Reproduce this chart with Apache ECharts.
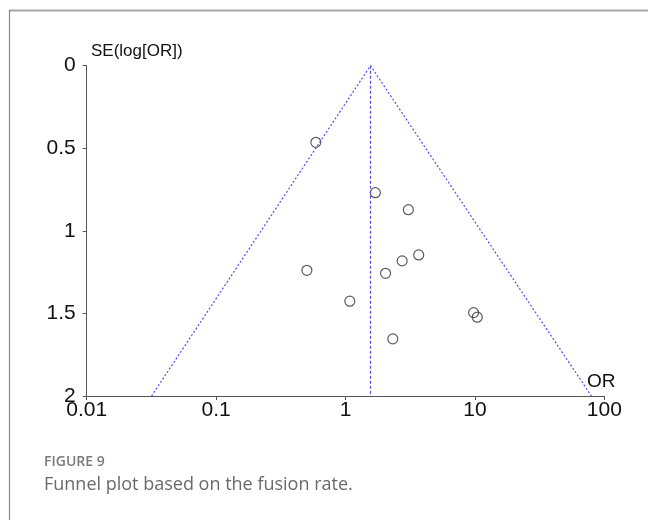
<!DOCTYPE html>
<html>
<head>
<meta charset="utf-8">
<script src="https://cdn.jsdelivr.net/npm/echarts@6/dist/echarts.min.js"></script>
<style>html,body{margin:0;padding:0;background:#fff;}#c{width:648px;height:520px;}</style>
</head>
<body>
<div id="c"></div>
<script>
// Study odds ratios and standard errors
var studyOR = [0.59, 1.70, 3.06, 0.503, 2.74, 3.68, 2.04, 1.08, 9.77, 10.43, 2.32];
var studySE = [0.464, 0.769, 0.872, 1.239, 1.182, 1.146, 1.257, 1.426, 1.495, 1.523, 1.654];
// Pooled estimate and funnel limits
var pooledOR = 1.56;
var funnelOR = [0.0317, 1.56, 79.5];
var funnelSE = [2, 0, 2];
var xTicks = ['0.01', '0.1', '1', '10', '100'];
var yTicks = ['0', '0.5', '1', '1.5', '2'];
var seMax = 2;

var points = studyOR.map(function (v, i) { return [v, studySE[i]]; });
var funnel = funnelOR.map(function (v, i) { return [v, funnelSE[i]]; });
var vline = [[pooledOR, 0], [pooledOR, seMax]];

var FONT = 'Liberation Sans, Arial, sans-serif';
var chart = echarts.init(document.getElementById('c'), null, {renderer: 'canvas'});
chart.setOption({
  animation: false,
  backgroundColor: '#fff',
  grid: {left: 86.7, right: 43.7, top: 65.7, bottom: 124},
  xAxis: {
    type: 'log', logBase: 10, min: 0.01, max: 100, position: 'bottom',
    axisLine: {onZero: false, lineStyle: {color: '#555', width: 1}},
    axisTick: {show: true, length: 4, lineStyle: {color: '#555'}},
    splitLine: {show: false},
    minorTick: {show: false},
    axisLabel: {
      color: '#111', fontSize: 21, fontFamily: FONT, margin: 4,
      formatter: function (v) {
        var idx = Math.round(Math.log10(v)) + 2;
        return xTicks[idx] !== undefined ? xTicks[idx] : '';
      }
    }
  },
  yAxis: {
    type: 'value', inverse: true, min: 0, max: seMax, interval: 0.5,
    axisLine: {show: true, onZero: false, lineStyle: {color: '#555', width: 1}},
    axisTick: {show: true, length: 4, lineStyle: {color: '#555'}},
    splitLine: {show: false},
    axisLabel: {
      color: '#111', fontSize: 21, fontFamily: FONT, margin: 11,
      formatter: function (v) {
        var idx = Math.round(v / 0.5);
        return yTicks[idx] !== undefined ? yTicks[idx] : '';
      }
    }
  },
  series: [
    {
      type: 'line', data: funnel, symbol: 'none', silent: true,
      lineStyle: {color: '#5050e8', width: 1.2, type: [2, 2]}
    },
    {
      type: 'line', data: vline, symbol: 'none', silent: true,
      lineStyle: {color: '#5050e8', width: 1.2, type: [3, 2]}
    },
    {
      type: 'scatter', data: points, symbol: 'circle', symbolSize: 10,
      itemStyle: {color: 'rgba(255,255,255,0)', borderColor: '#333', borderWidth: 1.2}
    }
  ],
  graphic: [
    {type: 'line', shape: {x1: 9, y1: 10.5, x2: 648, y2: 10.5}, style: {stroke: '#a8a8a8', lineWidth: 2}},
    {type: 'line', shape: {x1: 9.5, y1: 10, x2: 9.5, y2: 520}, style: {stroke: '#8a8a8a', lineWidth: 1.2}},
    {type: 'text', left: 91, top: 43, style: {text: 'SE(log[OR])', fill: '#111', font: '17px ' + FONT}},
    {type: 'text', left: 587, top: 372, style: {text: 'OR', fill: '#111', font: '19px ' + FONT}},
    {type: 'text', left: 44, top: 455, style: {text: 'FIGURE 9', fill: '#7a7a7a', font: '600 14px "Open Sans", sans-serif'}},
    {type: 'text', left: 44, top: 476, style: {text: 'Funnel plot based on the fusion rate.', fill: '#6a6a6a', font: '18px "Open Sans", sans-serif'}}
  ]
});
</script>
</body>
</html>
